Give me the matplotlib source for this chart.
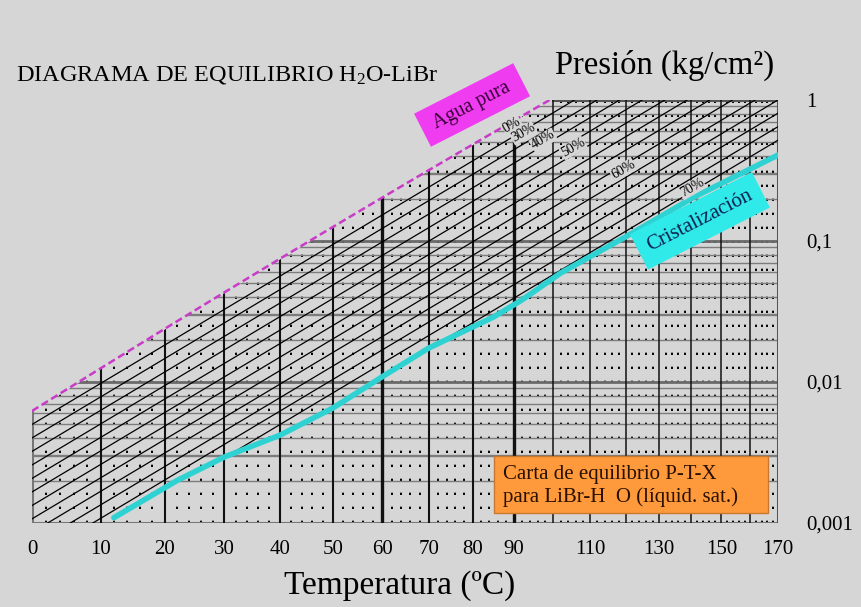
# Diagrama de equilibrio H2O-LiBr (Duhring chart, 1/T vs log P)
import numpy as np
import matplotlib
matplotlib.use('Agg')
import matplotlib.pyplot as plt
from matplotlib.patches import Polygon, Rectangle
from matplotlib.ticker import NullLocator

plt.rcParams['font.family'] = ['Liberation Serif', 'DejaVu Serif']
plt.rcParams['mathtext.fontset'] = 'custom'
plt.rcParams['mathtext.rm'] = 'Liberation Serif'
plt.rcParams['mathtext.it'] = 'Liberation Serif:italic'

# pure water line (kg/cm2)
t_agua = [0, 10, 20, 30, 40, 50, 60, 70, 80, 90, 100]
p_agua = [0.00623, 0.01251, 0.02383, 0.04325, 0.0752, 0.1258, 0.2031,
          0.3178, 0.4829, 0.7149, 1.0332]

# crystallization line
t_crist = [12, 22, 30, 40, 50, 60, 70, 85, 92, 102, 120, 141, 170]
p_crist = [0.00109, 0.0020, 0.00294, 0.00421, 0.00654, 0.0109, 0.0174,
           0.0289, 0.0382, 0.0593, 0.107, 0.205, 0.407]

# isoconcentration lines, pressure read at 0 C and at 170 C
p_iso_0 = [0.00500, 0.00401, 0.00322, 0.00258, 0.00207, 0.00166, 0.00133,
           0.00107, 0.000858, 0.000688, 0.000552, 0.000443, 0.000355]
p_iso_170 = [7.30, 5.86, 4.70, 3.77, 3.02, 2.43, 1.95, 1.56, 1.25, 1.00,
             0.806, 0.647, 0.519]

conc_labels = ['0%', '30%', '40%', '50%', '60%', '70%']
conc_t = [89.5, 92.3, 97.4, 105.3, 119.3, 140.3]
conc_p = [0.665, 0.583, 0.520, 0.457, 0.319, 0.238]

x_ticks = [0, 10, 20, 30, 40, 50, 60, 70, 80, 90, 110, 130, 150, 170]
y_ticks = [0.001, 0.01, 0.1, 1]
y_labels = ['0,001', '0,01', '0,1', '1']

bg = '#d6d6d6'

fig = plt.figure(figsize=(8.62, 6.07), dpi=100)
fig.patch.set_facecolor(bg)
ax = fig.add_axes([32/862, 84/607, 746/862, 423/607])
ax.set_facecolor(bg)

ax.set_xscale('function', functions=(lambda t: -1.0/(np.asarray(t, float) + 273.15),
                                     lambda f: -1.0/np.asarray(f, float) - 273.15))
ax.set_yscale('log')
ax.set_xlim(0, 170)
ax.set_ylim(0.001, 1)
for s in ax.spines.values():
    s.set_visible(False)

# dotted sub grid every 2 C
for t in range(2, 170, 2):
    if t % 10:
        ax.axvline(t, color='k', lw=1.4, ls=(0, (1.2, 6)), zorder=1.1)

# horizontal grid
for dec in [0.001, 0.01, 0.1]:
    for m in range(2, 10):
        ax.axhline(dec*m, color='#7c7c7c', lw=1.7 if m == 3 else 1.0, zorder=1.2)
for p in [0.01, 0.1]:
    ax.axhline(p, color='#6a6a6a', lw=2.0, zorder=1.3)
ax.plot([t_agua[-1], 170], [1, 1], color='#555555', lw=2.2, zorder=1.3)
ax.axhline(0.001, color='#777777', lw=2.2, zorder=1.3)

# vertical grid
for t in range(10, 170, 10):
    if t in (60, 90):
        lw = 2.4
    elif t <= 90:
        lw = 1.5
    else:
        lw = 1.1
    ax.axvline(t, color='#111111', lw=lw, zorder=1.4)
ax.plot([0, 0], [0.001, p_agua[0]], color='#777777', lw=2.2, zorder=1.4)
ax.axvline(170, color='#555555', lw=2.2, zorder=1.4)

# isoconcentration lines, stopped at the crystallization line
verts = [(-20, 1e-5), (t_crist[0], 1e-5)] + list(zip(t_crist, p_crist)) + \
        [(250, p_crist[-1]), (250, 100), (-20, 100)]
clip = Polygon(verts, closed=True, transform=ax.transData, fc='none', ec='none')
for p0, p1 in zip(p_iso_0, p_iso_170):
    ln, = ax.plot([0, 170], [p0, p1], color='k', lw=0.9, zorder=2)
    ln.set_clip_path(clip)

# blank area above pure water
ax.fill_between(t_agua, p_agua, 100, color=bg, lw=0, zorder=3)
y0 = (np.log10(p_agua[0]) + 3) / 3
ax.add_patch(Rectangle((-0.01, y0 + 0.004), 0.012, 1.0, transform=ax.transAxes,
                       fc=bg, ec='none', zorder=3, clip_on=False))
ax.plot(t_agua, p_agua, color='#c83cc8', lw=1.8, ls=(0, (3, 1.5)), zorder=5)
ax.plot(t_crist, p_crist, color='#2fd2d2', lw=4, zorder=4, solid_capstyle='round')

for lab, t, p in zip(conc_labels, conc_t, conc_p):
    ax.text(t, p, lab, rotation=30, fontsize=10, ha='center', va='center', zorder=6,
            bbox=dict(fc=bg, ec='none', pad=0.3))

ax.text(79.9, 0.922, ' Agua pura ', rotation=27, ha='center', va='center', fontsize=14.5,
        color='#3a003a', zorder=7, clip_on=False,
        bbox=dict(boxstyle='square,pad=0.45', fc='#f03cf0', ec='none'))
ax.text(142.9, 0.139, 'Cristalización', rotation=27, ha='center', va='center', fontsize=15,
        color='#0a2050', zorder=7,
        bbox=dict(boxstyle='square,pad=0.5', fc='#30eaea', ec='none'))

ax.add_patch(Rectangle((0.619, 0.0236), 0.368, 0.134, transform=ax.transAxes,
                       fc='#ff9a3c', ec='#c8782c', lw=1, zorder=8))
ax.text(0.631, 0.0875, 'Carta de equilibrio P-T-X\npara LiBr-H  O (líquid. sat.)',
        transform=ax.transAxes, ha='left', va='center', fontsize=15, color='#2a1000',
        linespacing=1.25, zorder=9)

ax.set_xticks(x_ticks)
ax.set_xticklabels([str(t) for t in x_ticks])
ax.xaxis.set_minor_locator(NullLocator())
ax.tick_params(axis='x', length=0, pad=12, labelsize=15)
ax.yaxis.tick_right()
ax.set_yticks(y_ticks)
ax.set_yticklabels(y_labels)
ax.yaxis.set_minor_locator(NullLocator())
ax.tick_params(axis='y', length=0, pad=20, labelsize=15)

fig.text(16/862, 1 - 75/607, 'DIAGRAMA DE EQUILIBRIO H$_2$O-LiBr', fontsize=17.5,
         ha='left', va='center')
fig.text(555/862, 1 - 65/607, 'Presión (kg/cm²)', fontsize=23.5, ha='left', va='center')
fig.text(400/862, 1 - 586/607, 'Temperatura (ºC)', fontsize=24, ha='center', va='center')

fig.savefig('out.png', dpi=100, facecolor=bg)
